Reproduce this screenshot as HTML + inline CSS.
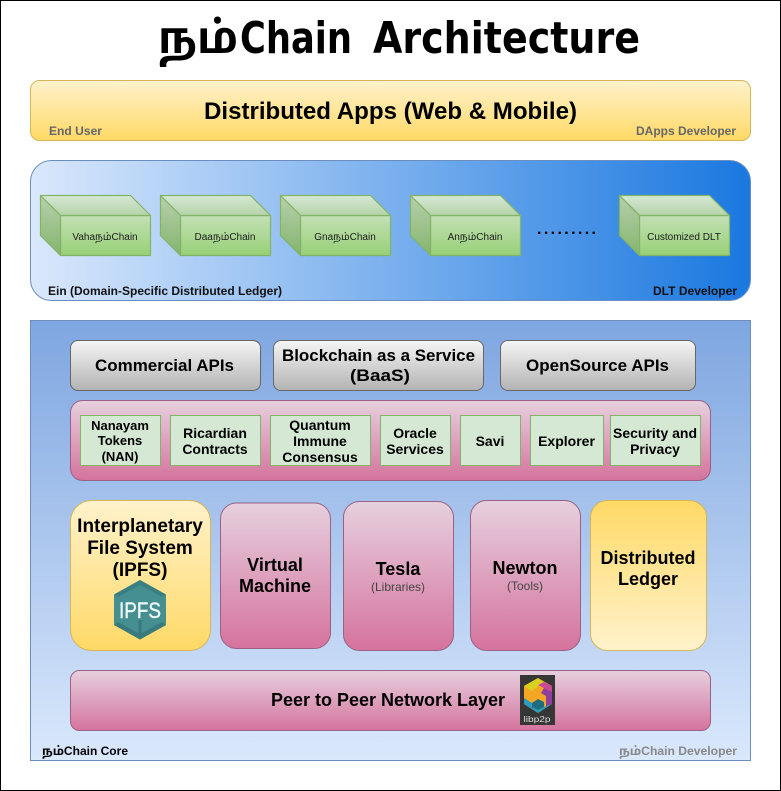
<!DOCTYPE html>
<html><head><meta charset="utf-8"><style>
html,body{margin:0;padding:0;background:#fff}
svg{display:block}
text{font-family:"Liberation Sans","Noto Sans Tamil","Lohit Tamil","DejaVu Sans",sans-serif}
.b{font-weight:bold;fill:#000}
.m{text-anchor:middle}
.g{font-size:14px;font-weight:bold;text-anchor:middle;fill:#000}
.c{font-size:10px;text-anchor:middle;fill:#1c1c1c}
</style></head><body>
<svg width="781" height="791" viewBox="0 0 781 791" xmlns="http://www.w3.org/2000/svg">
<defs>
<linearGradient id="y" x1="0" y1="0" x2="0" y2="1"><stop offset="0" stop-color="#fff2cc"/><stop offset="1" stop-color="#ffd966"/></linearGradient>
<linearGradient id="yr" x1="0" y1="0" x2="0" y2="1"><stop offset="0" stop-color="#ffd966"/><stop offset="1" stop-color="#fff2cc"/></linearGradient>
<linearGradient id="bl" x1="0" y1="0" x2="1" y2="0"><stop offset="0" stop-color="#dae8fc"/><stop offset="1" stop-color="#1a78e0"/></linearGradient>
<linearGradient id="co" x1="0" y1="0" x2="0" y2="1"><stop offset="0" stop-color="#7ea6e0"/><stop offset="1" stop-color="#dae8fc"/></linearGradient>
<linearGradient id="gr" x1="0" y1="0" x2="0" y2="1"><stop offset="0" stop-color="#f5f5f5"/><stop offset="1" stop-color="#b3b3b3"/></linearGradient>
<linearGradient id="pk" x1="0" y1="0" x2="0" y2="1"><stop offset="0" stop-color="#e6d0de"/><stop offset="1" stop-color="#d5739d"/></linearGradient>
<linearGradient id="gf" x1="0" y1="0" x2="0" y2="1"><stop offset="0" stop-color="#c3e0b5"/><stop offset="1" stop-color="#97d077"/></linearGradient>
<linearGradient id="gt" x1="0" y1="0" x2="0" y2="1"><stop offset="0" stop-color="#d5e8d4"/><stop offset="1" stop-color="#b5d3a8"/></linearGradient>
<linearGradient id="gs" x1="0" y1="0" x2="0" y2="1"><stop offset="0" stop-color="#b6cfab"/><stop offset="1" stop-color="#85b56e"/></linearGradient>
<g id="cube" stroke="#82b366" stroke-width="1.2" stroke-linejoin="round">
<path d="M20.500 20.500H110.500V60.500H20.500Z" fill="url(#gf)"/>
<path d="M.5 .5H90.5L110.500 20.500H20.500Z" fill="url(#gt)"/>
<path d="M.5 .5L20.500 20.500V60.500L.5 40.500Z" fill="url(#gs)"/>
</g>
</defs>
<rect x=".5" y=".5" width="780" height="790" fill="#fff" stroke="#000"/>

<text x="158" y="53" font-size="44" style="font-family:'Comic Sans MS','DejaVu Sans','Noto Sans Tamil',sans-serif" font-weight="bold" fill="#000" textLength="80" lengthAdjust="spacingAndGlyphs">நம்</text>
<text x="240" y="53" font-size="44" style="font-family:'Comic Sans MS','DejaVu Sans',sans-serif" font-weight="bold" fill="#000" textLength="112" lengthAdjust="spacingAndGlyphs">Chain</text>
<text x="373" y="53" font-size="44" style="font-family:'Comic Sans MS','DejaVu Sans',sans-serif" font-weight="bold" fill="#000" textLength="267" lengthAdjust="spacingAndGlyphs">Architecture</text>

<rect x="30.5" y="80.5" width="720" height="60" rx="9" fill="url(#y)" stroke="#d6b656"/>
<text x="204" y="119" class="b" font-size="24" textLength="373" lengthAdjust="spacingAndGlyphs">Distributed Apps (Web &amp; Mobile)</text>
<text x="49" y="135" font-size="12" font-weight="bold" fill="#666" textLength="53" lengthAdjust="spacingAndGlyphs">End User</text>
<text x="636" y="135" font-size="12" font-weight="bold" fill="#666" textLength="100" lengthAdjust="spacingAndGlyphs">DApps Developer</text>

<rect x="30.5" y="160.5" width="720" height="140" rx="21" fill="url(#bl)" stroke="#6c8ebf"/>
<use href="#cube" x="40" y="195"/><use href="#cube" x="160" y="195"/><use href="#cube" x="280" y="195"/><use href="#cube" x="410" y="195"/><use href="#cube" x="619" y="195"/>
<text x="105" y="240" class="c">Vahaநம்Chain</text>
<text x="225" y="240" class="c">Daaநம்Chain</text>
<text x="345" y="240" class="c">Gnaநம்Chain</text>
<text x="475" y="240" class="c">Anநம்Chain</text>
<text x="684" y="240" class="c">Customized DLT</text>
<text x="537" y="234" font-size="16" font-weight="bold" fill="#000" textLength="59">.........</text>
<text x="48" y="295" font-size="12" font-weight="bold" fill="#111" textLength="234" lengthAdjust="spacingAndGlyphs">Ein (Domain-Specific Distributed Ledger)</text>
<text x="653" y="295" font-size="12" font-weight="bold" fill="#111" textLength="84" lengthAdjust="spacingAndGlyphs">DLT Developer</text>

<rect x="30.5" y="320.5" width="720" height="440" fill="url(#co)" stroke="#6c8ebf"/>

<rect x="70.5" y="340.5" width="190" height="50" rx="7.5" fill="url(#gr)" stroke="#666"/>
<rect x="273.5" y="340.5" width="210" height="50" rx="7.5" fill="url(#gr)" stroke="#666"/>
<rect x="500.5" y="340.5" width="195" height="50" rx="7.5" fill="url(#gr)" stroke="#666"/>
<text x="95" y="371" class="b" font-size="17" textLength="139" lengthAdjust="spacingAndGlyphs">Commercial APIs</text>
<text x="282" y="361" class="b" font-size="17" textLength="193" lengthAdjust="spacingAndGlyphs">Blockchain as a Service</text>
<text x="350" y="381" class="b" font-size="17" textLength="60" lengthAdjust="spacingAndGlyphs">(BaaS)</text>
<text x="526" y="371" class="b" font-size="17" textLength="143" lengthAdjust="spacingAndGlyphs">OpenSource APIs</text>

<rect x="70.5" y="400.5" width="640" height="80" rx="12" fill="url(#pk)" stroke="#996185"/>
<g fill="#d5e8d4" stroke="#82b366">
<rect x="80.5" y="415.5" width="80" height="50"/>
<rect x="170.5" y="415.5" width="90" height="50"/>
<rect x="270.5" y="415.5" width="100" height="50"/>
<rect x="380.5" y="415.5" width="70" height="50"/>
<rect x="460.5" y="415.5" width="60" height="50"/>
<rect x="530.5" y="415.5" width="73" height="50"/>
<rect x="610.5" y="415.5" width="90" height="50"/>
</g>
<text x="120" y="430" class="g" style="font-size:13px">Nanayam</text>
<text x="120" y="445" class="g" style="font-size:13px">Tokens</text>
<text x="120" y="461" class="g" style="font-size:13px">(NAN)</text>
<text x="215" y="438" class="g">Ricardian</text>
<text x="215" y="454" class="g">Contracts</text>
<text x="320" y="430" class="g">Quantum</text>
<text x="320" y="446" class="g">Immune</text>
<text x="320" y="462" class="g">Consensus</text>
<text x="415" y="438" class="g">Oracle</text>
<text x="415" y="454" class="g">Services</text>
<text x="490" y="446" class="g">Savi</text>
<text x="566.5" y="446" class="g">Explorer</text>
<text x="655" y="438" class="g">Security and</text>
<text x="655" y="454" class="g">Privacy</text>

<rect x="70.5" y="500.5" width="140" height="150" rx="21" fill="url(#y)" stroke="#d6b656"/>
<text x="140" y="532" class="b m" font-size="19">Interplanetary</text>
<text x="140" y="554" class="b m" font-size="19">File System</text>
<text x="140" y="576" class="b m" font-size="19">(IPFS)</text>
<path d="M140 580L166 594.500V625L140 639.500L114 625V594.500Z" fill="#458f91"/>
<path d="M140 580L166 594.500L162 597L140 585L118 597L114 594.500Z" fill="#3b7f81"/>
<path d="M114 625L118 622L140 634L162 622L166 625L140 639.500Z" fill="#397b7d"/>
<path d="M140 620V639" stroke="#38787b" stroke-width="3"/>
<text x="140" y="618" class="m" font-size="22" fill="#eef7f7" stroke="#eef7f7" stroke-width=".4" textLength="42" lengthAdjust="spacingAndGlyphs">IPFS</text>

<rect x="220.5" y="503" width="110" height="145.500" rx="16" fill="url(#pk)" stroke="#996185"/>
<text x="275" y="571" class="b m" font-size="18">Virtual</text>
<text x="275" y="592" class="b m" font-size="18">Machine</text>

<rect x="343.500" y="501.500" width="110" height="149" rx="16" fill="url(#pk)" stroke="#996185"/>
<text x="398" y="575" class="b m" font-size="18">Tesla</text>
<text x="398" y="591" class="m" font-size="12" fill="#444">(Libraries)</text>

<rect x="470.500" y="500.500" width="110" height="150" rx="16" fill="url(#pk)" stroke="#996185"/>
<text x="525" y="574" class="b m" font-size="18">Newton</text>
<text x="525" y="590" class="m" font-size="12" fill="#444">(Tools)</text>

<rect x="590.500" y="500.500" width="116" height="150" rx="17" fill="url(#yr)" stroke="#d6b656"/>
<text x="648" y="564" class="b m" font-size="18">Distributed</text>
<text x="648" y="585" class="b m" font-size="18">Ledger</text>

<rect x="70.500" y="670.500" width="640" height="60" rx="9" fill="url(#pk)" stroke="#996185"/>
<text x="271" y="706" class="b" font-size="18" textLength="234">Peer to Peer Network Layer</text>
<rect x="520" y="675" width="35" height="50" fill="#363636"/>
<path d="M538 678L552 686V704L538 713L524 704V686Z" fill="#f5a623"/>
<path d="M538 678L544 682L532 691L524 686Z" fill="#d9cf1e"/>
<path d="M544 682L552 686V692L544 688L538 685Z" fill="#c8489a"/>
<path d="M544 688L552 692V704L546 708V696L541 693Z" fill="#8e3f9f"/>
<path d="M524 698L532 703V707L538 710L546 706L552 704L538 713L524 704Z" fill="#2a9cc0"/>
<path d="M532 703L538 699L544 702V707L538 710L532 707Z" fill="#1f6d80"/>
<text x="537" y="722" class="m" font-size="8" fill="#ddd" textLength="27" lengthAdjust="spacingAndGlyphs">libp2p</text>

<text x="42" y="755" font-size="12" font-weight="bold" fill="#000" textLength="86" lengthAdjust="spacingAndGlyphs">நம்Chain Core</text>
<text x="619" y="755" font-size="12" font-weight="bold" fill="#888" textLength="118" lengthAdjust="spacingAndGlyphs">நம்Chain Developer</text>
</svg>
</body></html>
